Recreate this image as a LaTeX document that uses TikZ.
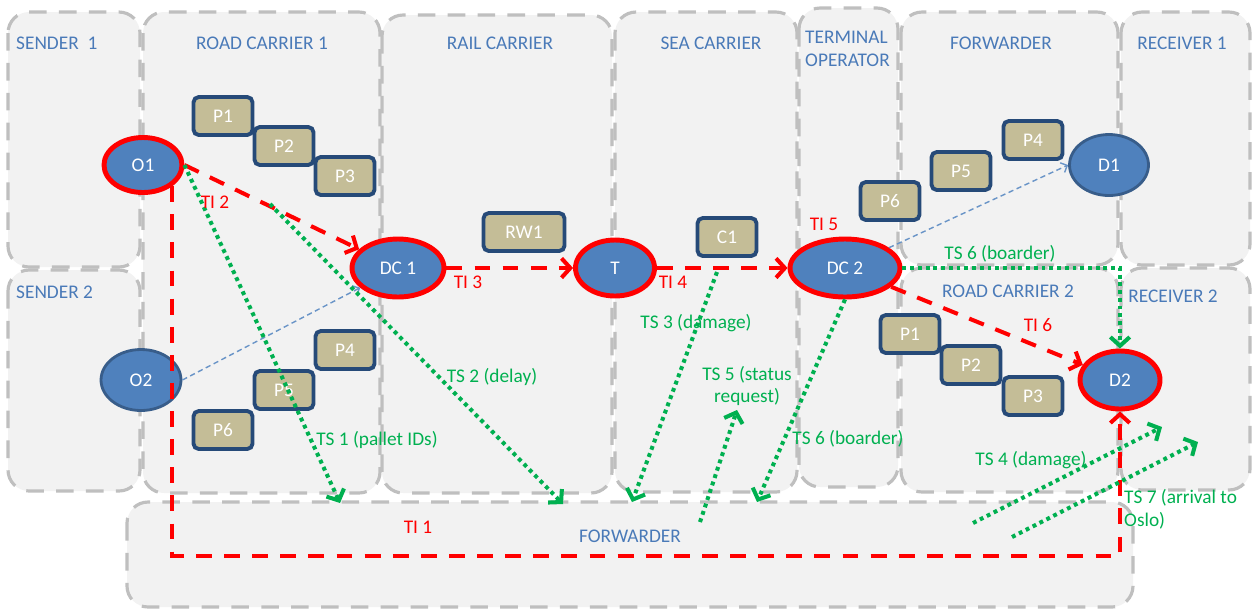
\documentclass[tikz,border=0pt]{standalone}
\usepackage{fontspec}
\setmainfont{Carlito}
\usepackage{tikz}
\usetikzlibrary{shapes,arrows.meta,positioning}

\definecolor{lanefill}{RGB}{242,242,242}
\definecolor{laneline}{RGB}{191,191,191}
\definecolor{lanetext}{RGB}{74,122,184}
\definecolor{hubblue}{RGB}{79,129,189}
\definecolor{hubedge}{RGB}{56,93,138}
\definecolor{palletfill}{RGB}{196,189,151}
\definecolor{palletedge}{RGB}{38,74,120}
\definecolor{tsgreen}{RGB}{0,176,80}

\tikzset{
  lane/.style={fill=lanefill, draw=laneline, line width=1.8pt, dash pattern=on 10pt off 7pt, rounded corners=12pt},
  lanelabel/.style={text=lanetext},
  hub/.style={ellipse, fill=hubblue, draw=hubedge, line width=1.6pt, text=white, inner sep=0pt},
  redhub/.style={hub, draw=red, line width=2.8pt},
  pallet/.style={rectangle, rounded corners=3pt, fill=palletfill, draw=palletedge, line width=2.2pt, text=white, minimum width=1.18cm, minimum height=0.76cm, inner sep=0pt},
  ti/.style={red, line width=2.3pt, dash pattern=on 9pt off 7pt, -{Straight Barb[length=5pt,width=11pt]}},
  ts/.style={tsgreen, line width=2.3pt, dash pattern=on 2.2pt off 2.2pt, -{Straight Barb[length=5pt,width=11pt]}},
  flow/.style={hubblue!85!white, line width=0.8pt, dash pattern=on 3pt off 2pt, -{Straight Barb[length=3pt,width=6pt]}},
  tilabel/.style={text=red},
  tslabel/.style={text=tsgreen}
}

\begin{document}
\begin{tikzpicture}[x=0.02cm, y=-0.02cm, every node/.style={font=\fontsize{11}{13}\selectfont}]
\useasboundingbox (0,0) rectangle (1253,610);
% swim lanes
\draw[lane] (8,12) rectangle (140,267);
\draw[lane] (8,270) rectangle (140,491);
\draw[lane] (143,12) rectangle (380,493);
\draw[lane] (382,15) rectangle (612,493);
\draw[lane] (615,12) rectangle (797,492);
\draw[lane] (799,8) rectangle (898,487);
\draw[lane] (901,12) rectangle (1118,265);
\draw[lane] (1121,12) rectangle (1250,265);
\draw[lane] (901,268) rectangle (1118,492);
\draw[lane] (1121,268) rectangle (1250,490);
\draw[lane] (127,502) rectangle (1133,607);

\node[lanelabel, anchor=west] (sender1) at (10,43) {SENDER\ \ 1};
\node[lanelabel, anchor=west] (sender2) at (10,292) {SENDER 2};
\node[lanelabel] (road1) at (262,43) {ROAD CARRIER 1};
\node[lanelabel] (rail) at (500,43) {RAIL CARRIER};
\node[lanelabel] (sea) at (711,43) {SEA CARRIER};
\node[lanelabel, anchor=west, align=left] (terminal) at (799,49) {TERMINAL\\OPERATOR};
\node[lanelabel] (fwdtop) at (1001,43) {FORWARDER};
\node[lanelabel] (recv1) at (1182,43) {RECEIVER 1};
\node[lanelabel] (road2) at (1008,291) {ROAD CARRIER 2};
\node[lanelabel] (recv2) at (1173,296) {RECEIVER 2};
\node[lanelabel] (fwdbot) at (630,536) {FORWARDER};

% sites
\node[redhub, minimum width=1.56cm, minimum height=1.1cm] (O1) at (143,165) {O1};
\node[hub, minimum width=1.6cm, minimum height=1.22cm] (O2) at (141,380) {O2};
\node[redhub, minimum width=1.84cm, minimum height=1.16cm] (DC1) at (398,268) {DC 1};
\node[redhub, minimum width=1.58cm, minimum height=1.12cm] (T) at (615,268) {T};
\node[redhub, minimum width=2.2cm, minimum height=1.16cm] (DC2) at (845,268) {DC 2};
\node[hub, minimum width=1.58cm, minimum height=1.22cm] (D1) at (1109,165) {D1};
\node[redhub, minimum width=1.6cm, minimum height=1.16cm] (D2) at (1120,380) {D2};

% pallets
\node[pallet] (pa1) at (223,116) {P1};
\node[pallet] (pa2) at (284,146) {P2};
\node[pallet] (pa3) at (345,176) {P3};
\node[pallet] (pb4) at (345,350) {P4};
\node[pallet] (pb5) at (284,390) {P5};
\node[pallet] (pb6) at (223,430) {P6};
\node[pallet, minimum width=1.62cm] (rw1) at (524,232) {RW1};
\node[pallet] (c1) at (727,237) {C1};
\node[pallet] (pc6) at (890,201) {P6};
\node[pallet] (pc5) at (961,171) {P5};
\node[pallet] (pc4) at (1033,140) {P4};
\node[pallet] (pd1) at (910,334) {P1};
\node[pallet] (pd2) at (971,365) {P2};
\node[pallet] (pd3) at (1033,396) {P3};

% free ends
\coordinate (ti1c) at (1120,556);
\coordinate (ts1e) at (340,503);
\coordinate (ts2s) at (270,204);
\coordinate (ts2e) at (563,504);
\coordinate (ts3s) at (717,272);
\coordinate (ts3e) at (632,502);
\coordinate (ts5s) at (700,522);
\coordinate (ts5e) at (737,410);
\coordinate (ts6e) at (757,502);
\coordinate (ts4s) at (973,523);
\coordinate (ts4e) at (1162,427);
\coordinate (ts7s) at (1012,537);
\coordinate (ts7e) at (1198,442);

% physical flows
\draw[flow] (O2.east) -- (DC1);
\draw[flow] (DC2) -- (D1.west);

% transport instructions
\draw[ti] (O1.east) -- (DC1);
\draw[ti] (DC1) -- (T);
\draw[ti] (T) -- (DC2);
\draw[ti] (DC2) -- (D2);
\draw[ti] (O1.-36) |- (ti1c) -- (D2.south);

% transport status
\draw[ts] (O1.east) -- (ts1e);
\draw[ts] (ts2s) -- (ts2e);
\draw[ts] (ts3s) -- (ts3e);
\draw[ts] (ts5s) -- (ts5e);
\draw[ts] (DC2.south) -- (ts6e);
\draw[ts] (DC2.east) -| (D2.north);
\draw[ts] (ts4s) -- (ts4e);
\draw[ts] (ts7s) -- (ts7e);

\node[tilabel] (ti1) at (418,527) {TI 1};
\node[tilabel] (ti2) at (215,202) {TI 2};
\node[tilabel] (ti3) at (468,282) {TI 3};
\node[tilabel] (ti4) at (673,282) {TI 4};
\node[tilabel] (ti5) at (824,224) {TI 5};
\node[tilabel] (ti6) at (1038,325) {TI 6};
\node[tslabel] (ts1) at (377,440) {TS 1 (pallet IDs)};
\node[tslabel] (ts2) at (492,377) {TS 2 (delay)};
\node[tslabel] (ts3) at (696,323) {TS 3 (damage)};
\node[tslabel] (ts4) at (1031,460) {TS 4 (damage)};
\node[tslabel, align=center] (ts5) at (747,386) {TS 5 (status\\request)};
\node[tslabel] (ts6a) at (1000,254) {TS 6 (boarder)};
\node[tslabel] (ts6b) at (848,439) {TS 6 (boarder)};
\node[tslabel, anchor=west, align=left] (ts7) at (1118,509) {TS 7 (arrival to\\Oslo)};
\end{tikzpicture}
\end{document}
